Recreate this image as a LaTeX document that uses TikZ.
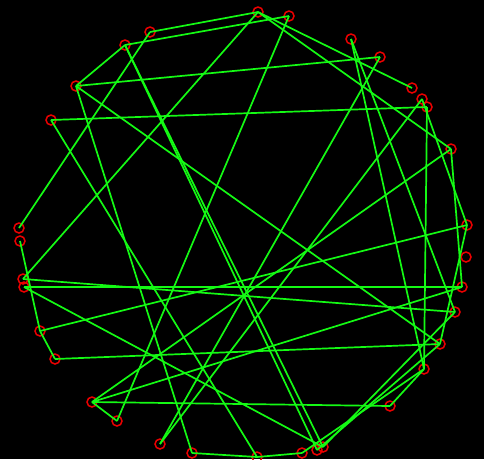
\documentclass[tikz,border=0pt]{standalone}
\begin{document}
\begin{tikzpicture}[x=1pt,y=-1pt,
  pt/.style={circle,draw=ringred,line width=1.5pt,minimum size=10pt,inner sep=0pt},
  edge/.style={draw=linegreen,line width=1.7pt}]
\definecolor{ringred}{RGB}{235,0,0}
\definecolor{linegreen}{RGB}{20,250,20}
\fill[black] (0,0) rectangle (484,459);
\useasboundingbox (0,0) rectangle (484,459);
\foreach \n/\x/\y in {A/258/12,B/289/16,C/150/32,D/125/45,E/351/39,F/380/57,G/76/86,H/412/88,I/422/99,J/427/107,K/51/120,L/451/149,M/467/225,N/19/228,O/20/241,P/466/257,Q/23/279,R/24/287,S/462/287,T/455/312,U/40/331,V/440/344,W/55/359,X/424/369,Y/92/402,Z/390/406,a/117/421,b/160/444,c/192/453,d/257/457,e/302/453,f/317/450,g/323/447}
  \node[pt] (\n) at (\x,\y) {};
\foreach \u/\v in {A/C,B/D,D/G,G/F,K/J,A/Q,C/N,B/a,G/c,D/f,D/g,A/H,A/L,E/X,E/T,F/b,I/b,J/X,I/M,M/U,Y/L,Y/S,Y/Z,Y/a,Q/T,R/S,R/g,U/W,W/V,G/V,e/X,f/V,g/T,Z/X,K/d,c/d,d/e,O/U,M/V,L/S}
  \draw[edge] (\u.center) -- (\v.center);
\end{tikzpicture}
\end{document}
